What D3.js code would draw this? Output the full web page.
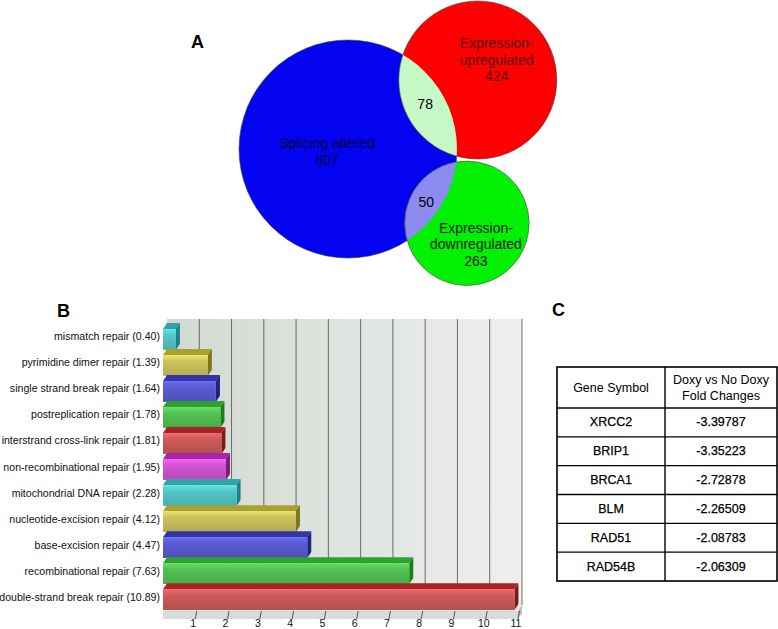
<!DOCTYPE html>
<html>
<head>
<meta charset="utf-8">
<script src="https://cdn.jsdelivr.net/npm/d3@7"></script>
<style>
  html, body { margin: 0; padding: 0; background: #fff; }
  svg { display: block; font-family: "Liberation Sans", Arial, sans-serif; }
</style>
</head>
<body>
<svg id="chart" width="778" height="629"></svg>
<script>
// ---------------- DATA ----------------
// Panel A: Venn diagram
const vennSetNames = ["Splicing altered", "Expression-upregulated", "Expression-downregulated"];
const vennSetLines = [["Splicing altered"], ["Expression-", "upregulated"], ["Expression-", "downregulated"]];
const vennSetSizes = [807, 424, 263];
const vennOverlapPairs = [[0, 1], [0, 2]];
const vennOverlapSizes = [78, 50];

// Panel B: GO categories (DNA repair) with values
const repairCategories = [
  "mismatch repair", "pyrimidine dimer repair", "single strand break repair",
  "postreplication repair", "interstrand cross-link repair", "non-recombinational repair",
  "mitochondrial DNA repair", "nucleotide-excision repair", "base-excision repair",
  "recombinational repair", "double-strand break repair"
];
const repairValues = [0.40, 1.39, 1.64, 1.78, 1.81, 1.95, 2.28, 4.12, 4.47, 7.63, 10.89];
const xTickValues = [1, 2, 3, 4, 5, 6, 7, 8, 9, 10, 11];

// Panel C: table
const tableHeader = [["Gene Symbol"], ["Doxy vs No Doxy", "Fold Changes"]];
const geneSymbols = ["XRCC2", "BRIP1", "BRCA1", "BLM", "RAD51", "RAD54B"];
const foldChanges = ["-3.39787", "-3.35223", "-2.72878", "-2.26509", "-2.08783", "-2.06309"];

// ---------------- STYLE / LAYOUT ----------------
const svg = d3.select("#chart");
svg.append("rect").attr("width", 778).attr("height", 629).attr("fill", "#fff");
const defs = svg.append("defs");

// Panel labels
const panelLabels = [{t: "A", x: 191, y: 48}, {t: "B", x: 57, y: 317}, {t: "C", x: 552, y: 316}];
svg.selectAll("text.panel").data(panelLabels).join("text")
  .attr("class", "panel").attr("x", d => d.x).attr("y", d => d.y)
  .attr("font-size", 18).attr("font-weight", "bold").attr("fill", "#000")
  .text(d => d.t);

// ---------------- PANEL A: VENN ----------------
const rScale = d3.scaleSqrt().domain([0, d3.max(vennSetSizes)]).range([0, 109]);
const vennMain = {x: 348, y: 149};
// layout: angle (deg) and overlap depth (px) of satellites relative to main circle
const vennLayout = [null, {angle: -28, depth: 41}, {angle: 32, depth: 31}];
const circles = vennSetSizes.map((s, i) => {
  const r = rScale(s);
  if (i === 0) return {i, r, x: vennMain.x, y: vennMain.y};
  const L = vennLayout[i];
  const d = rScale(vennSetSizes[0]) + r - L.depth;
  const a = L.angle * Math.PI / 180;
  return {i, r, x: vennMain.x + d * Math.cos(a), y: vennMain.y + d * Math.sin(a)};
});
const circleFill = ["#0303f2", "#fe0000", "#02f002"];
const lensFill = ["#c6f9c6", "#8c8cf0"];
const labelColor = ["#00003c", "#5a0000", "#001a00"];
const labelOffset = [{dx: -21, dy: 2.5}, {dx: 19, dy: -20}, {dx: 9, dy: 21}];

const gA = svg.append("g");
gA.selectAll("circle.set").data(circles).join("circle")
  .attr("class", "set")
  .attr("cx", d => d.x).attr("cy", d => d.y).attr("r", d => d.r)
  .attr("fill", d => circleFill[d.i]).attr("stroke", "#444").attr("stroke-width", 0.6);

vennOverlapPairs.forEach((p, k) => {
  const a = circles[p[0]], b = circles[p[1]];
  const id = "clipv" + k;
  defs.append("clipPath").attr("id", id).append("circle")
    .attr("cx", a.x).attr("cy", a.y).attr("r", a.r);
  gA.append("circle").attr("clip-path", `url(#${id})`)
    .attr("cx", b.x).attr("cy", b.y).attr("r", b.r)
    .attr("fill", lensFill[k]).attr("stroke", "#444").attr("stroke-width", 0.6);
  // lens label at middle of the lens along the center line
  const dx = b.x - a.x, dy = b.y - a.y, dist = Math.hypot(dx, dy);
  const t = ((dist - b.r) + a.r) / 2 / dist;
  gA.append("text")
    .attr("x", a.x + dx * t - 1).attr("y", a.y + dy * t + (k === 0 ? -3 : 3))
    .attr("text-anchor", "middle").attr("dominant-baseline", "central")
    .attr("font-size", 14).attr("fill", "#000")
    .text(vennOverlapSizes[k]);
});

circles.forEach(c => {
  const lines = vennSetLines[c.i].concat([String(vennSetSizes[c.i])]);
  const off = labelOffset[c.i];
  const lh = 16.5;
  const y0 = c.y + off.dy - (lines.length - 1) * lh / 2;
  gA.append("text")
    .attr("text-anchor", "middle").attr("font-size", 14)
    .attr("fill", labelColor[c.i])
    .selectAll("tspan").data(lines).join("tspan")
    .attr("x", c.x + off.dx).attr("y", (d, j) => y0 + j * lh)
    .attr("dominant-baseline", "central")
    .text(d => d);
});

// ---------------- PANEL B: 3D BAR CHART ----------------
const depthX = 4, depthY = 6;
const x = d3.scaleLinear().domain([0, 11]).range([163, 518]);
const y = d3.scaleBand().domain(repairCategories).range([323.8, 615.2]).paddingInner(0.2).paddingOuter(0.2);
const wallTop = 319, floorFront = 611, floorBottom = 619;

const gB = svg.append("g");
// back wall gradient
const wallGrad = defs.append("linearGradient").attr("id", "wallGrad").attr("x1", 0).attr("x2", 1).attr("y1", 0).attr("y2", 0);
wallGrad.append("stop").attr("offset", 0).attr("stop-color", "#d2d8d2");
wallGrad.append("stop").attr("offset", 0.6).attr("stop-color", "#e2e6e2");
wallGrad.append("stop").attr("offset", 1).attr("stop-color", "#eef0ee");
gB.append("rect")
  .attr("x", x(0) + depthX).attr("y", wallTop)
  .attr("width", x(11) - x(0)).attr("height", floorFront - depthY - wallTop)
  .attr("fill", "url(#wallGrad)");
// grid lines on back wall
gB.selectAll("line.grid").data(xTickValues).join("line")
  .attr("class", "grid")
  .attr("x1", d => x(d) + depthX).attr("x2", d => x(d) + depthX)
  .attr("y1", wallTop).attr("y2", floorFront - depthY)
  .attr("stroke", "#6a6a6a").attr("stroke-width", 1);
// floor top face
gB.append("path")
  .attr("d", `M${x(0)},${floorFront} L${x(0) + depthX},${floorFront - depthY} L${x(11) + depthX},${floorFront - depthY} L${x(11)},${floorFront} Z`)
  .attr("fill", "#e4e8e4");
// floor front face
gB.append("rect").attr("x", x(0)).attr("y", floorFront)
  .attr("width", x(11) - x(0)).attr("height", floorBottom - floorFront)
  .attr("fill", "#d8dcd8");
// floor right side
gB.append("path")
  .attr("d", `M${x(11)},${floorFront} L${x(11) + depthX},${floorFront - depthY} L${x(11) + depthX},${floorBottom - depthY} L${x(11)},${floorBottom} Z`)
  .attr("fill", "#b8bcb8");

// bar colours
const palette = [
  {front: "#52c6c8", top: "#2fa4aa", side: "#1f8087"}, // cyan
  {front: "#cbc35c", top: "#a9a12e", side: "#7c761c"}, // yellow
  {front: "#5a5ad2", top: "#3434a6", side: "#22227c"}, // blue
  {front: "#52c152", top: "#2ea12e", side: "#1f7a1f"}, // green
  {front: "#cd5a5a", top: "#aa2226", side: "#7c1a1a"}, // red
  {front: "#d253d2", top: "#a624a6", side: "#7c1a7c"}  // magenta
];
const colorIndex = [0, 1, 2, 3, 4, 5, 0, 1, 2, 3, 4];
palette.forEach((p, k) => {
  const g = defs.append("linearGradient").attr("id", "barGrad" + k)
    .attr("x1", 0).attr("x2", 0).attr("y1", 0).attr("y2", 1);
  g.append("stop").attr("offset", 0).attr("stop-color", d3.color(p.front).brighter(0.45));
  g.append("stop").attr("offset", 0.3).attr("stop-color", p.front);
  g.append("stop").attr("offset", 1).attr("stop-color", d3.color(p.front).darker(0.35));
});

const bars = gB.selectAll("g.bar").data(repairCategories).join("g").attr("class", "bar");
bars.append("path") // top face
  .attr("d", (d, i) => {
    const y0 = y(d), x0 = x(0), x1 = x(repairValues[i]);
    return `M${x0},${y0} L${x0 + depthX},${y0 - depthY} L${x1 + depthX},${y0 - depthY} L${x1},${y0} Z`;
  })
  .attr("fill", (d, i) => palette[colorIndex[i]].top);
bars.append("path") // side face
  .attr("d", (d, i) => {
    const y0 = y(d), y1 = y(d) + y.bandwidth(), x1 = x(repairValues[i]);
    return `M${x1},${y0} L${x1 + depthX},${y0 - depthY} L${x1 + depthX},${y1 - depthY} L${x1},${y1} Z`;
  })
  .attr("fill", (d, i) => palette[colorIndex[i]].side);
bars.append("rect") // front face
  .attr("x", x(0)).attr("y", d => y(d))
  .attr("width", (d, i) => x(repairValues[i]) - x(0)).attr("height", y.bandwidth())
  .attr("fill", (d, i) => `url(#barGrad${colorIndex[i]})`);

// category labels
gB.selectAll("text.cat").data(repairCategories).join("text")
  .attr("class", "cat")
  .attr("x", 160).attr("y", d => y(d) + y.bandwidth() / 2 - 3)
  .attr("text-anchor", "end").attr("dominant-baseline", "central")
  .attr("font-size", 10.6).attr("fill", "#111")
  .text((d, i) => `${d} (${repairValues[i].toFixed(2)})`);

// x ticks on floor front (slanted) and labels
gB.selectAll("line.tick").data(xTickValues).join("line")
  .attr("class", "tick")
  .attr("x1", d => x(d) + 1.5).attr("x2", d => x(d))
  .attr("y1", floorFront).attr("y2", floorBottom)
  .attr("stroke", "#555").attr("stroke-width", 1);
gB.selectAll("text.tl").data(xTickValues).join("text")
  .attr("class", "tl")
  .attr("x", d => x(d) - 2).attr("y", 627)
  .attr("text-anchor", "middle").attr("font-size", 10.5).attr("fill", "#111")
  .text(d => d);

// ---------------- PANEL C: TABLE ----------------
const tblX = [557, 665, 777];
const tblHeaderTop = 367, tblHeaderBottom = 408, tblBottom = 581;
const rowY = d3.scaleBand().domain(geneSymbols).range([tblHeaderBottom, tblBottom]);
const gC = svg.append("g");
gC.append("rect").attr("x", tblX[0]).attr("y", tblHeaderTop)
  .attr("width", tblX[2] - tblX[0]).attr("height", tblBottom - tblHeaderTop)
  .attr("fill", "#fff").attr("stroke", "#000").attr("stroke-width", 1.6);
gC.append("line").attr("x1", tblX[1]).attr("x2", tblX[1])
  .attr("y1", tblHeaderTop).attr("y2", tblBottom).attr("stroke", "#000").attr("stroke-width", 1.4);
gC.selectAll("line.row").data(geneSymbols).join("line").attr("class", "row")
  .attr("x1", tblX[0]).attr("x2", tblX[2])
  .attr("y1", d => rowY(d)).attr("y2", d => rowY(d))
  .attr("stroke", "#000").attr("stroke-width", 1.4);
tableHeader.forEach((lines, c) => {
  const cx = (tblX[c] + tblX[c + 1]) / 2;
  const cy = (tblHeaderTop + tblHeaderBottom) / 2;
  const lh = 16;
  gC.append("text").attr("text-anchor", "middle").attr("font-size", 12.5).attr("fill", "#000")
    .selectAll("tspan").data(lines).join("tspan")
    .attr("x", cx).attr("y", (d, j) => cy - (lines.length - 1) * lh / 2 + j * lh)
    .attr("dominant-baseline", "central").text(d => d);
});
gC.selectAll("text.gene").data(geneSymbols).join("text").attr("class", "gene")
  .attr("x", (tblX[0] + tblX[1]) / 2).attr("y", d => rowY(d) + rowY.bandwidth() / 2)
  .attr("text-anchor", "middle").attr("dominant-baseline", "central")
  .attr("font-size", 12.5).attr("fill", "#000").attr("stroke", "#000").attr("stroke-width", 0.25)
  .text(d => d);
gC.selectAll("text.fc").data(foldChanges).join("text").attr("class", "fc")
  .attr("x", (tblX[1] + tblX[2]) / 2).attr("y", (d, i) => rowY(geneSymbols[i]) + rowY.bandwidth() / 2)
  .attr("text-anchor", "middle").attr("dominant-baseline", "central")
  .attr("font-size", 12.5).attr("fill", "#000").attr("stroke", "#000").attr("stroke-width", 0.25)
  .text(d => d);
</script>
</body>
</html>
